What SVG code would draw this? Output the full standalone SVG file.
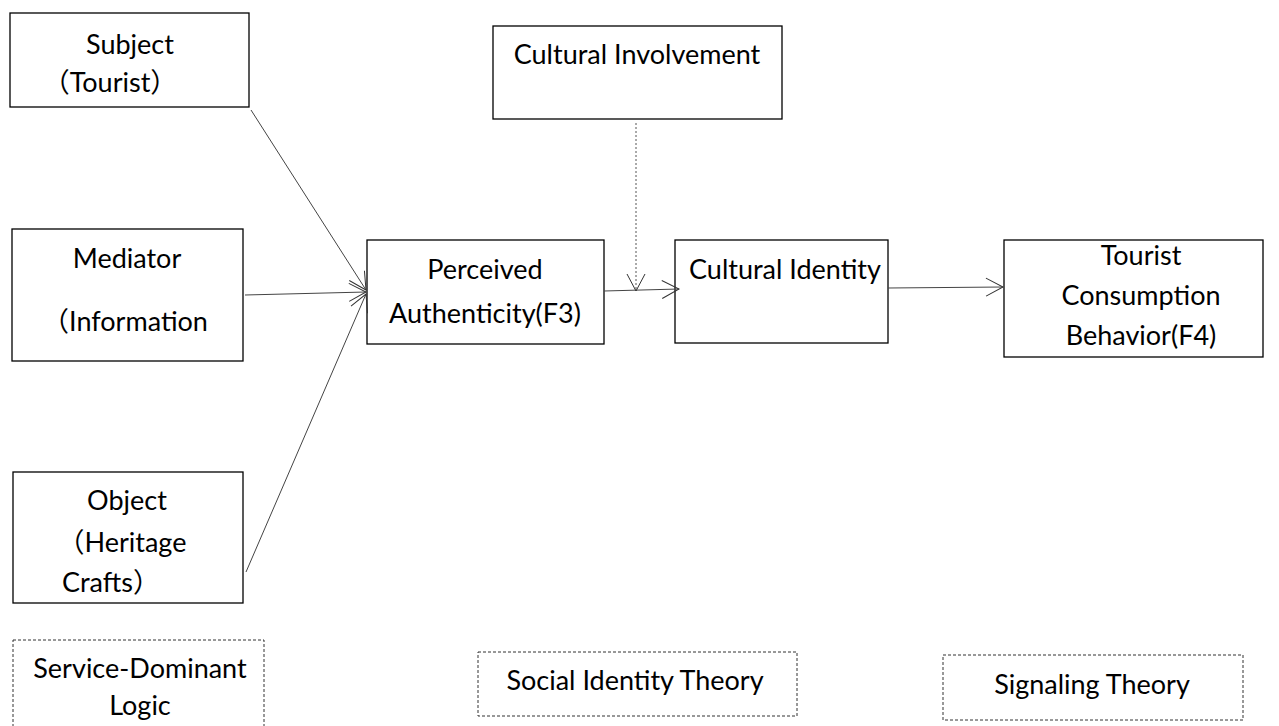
<svg xmlns="http://www.w3.org/2000/svg" width="1279" height="726" viewBox="0 0 1279 726">
<defs>
<style>
.box{fill:#fff;stroke:#000;stroke-width:1.3}
.dbox{fill:#fff;stroke:#333;stroke-width:1;stroke-dasharray:3 2}
.t{font-family:"Lato","Noto Sans CJK SC",sans-serif;font-size:27px;fill:#000;text-anchor:middle}
.c{fill:none;stroke:#444;stroke-width:1}
.d{fill:none;stroke:#555;stroke-width:1;stroke-dasharray:2 2}
</style>
<marker id="arr" markerUnits="userSpaceOnUse" viewBox="-20 -12 22 24" refX="0" refY="0" markerWidth="22" markerHeight="24" orient="auto" overflow="visible">
<path d="M-17,-9 L0,0 L-17,9" fill="none" stroke="#333" stroke-width="1"/>
</marker>
</defs>
<g id="subject"><rect class="box" x="10" y="13" width="239" height="94"/><text class="t" x="130" y="54">Subject</text><text class="t" x="110" y="92">（Tourist）</text></g>
<g id="cultural-involvement"><rect class="box" x="493" y="26" width="289" height="93"/><text class="t" x="637" y="64">Cultural Involvement</text></g>
<g id="mediator"><rect class="box" x="12" y="229" width="231" height="132"/><text class="t" x="127" y="268">Mediator</text><text class="t" x="125" y="331">（Information</text></g>
<g id="perceived-authenticity"><rect class="box" x="367" y="240" width="237" height="104"/><text class="t" x="485" y="279">Perceived</text><text class="t" x="485" y="323">Authenticity(F3)</text></g>
<g id="cultural-identity"><rect class="box" x="675" y="240" width="213" height="103"/><text class="t" x="785" y="279">Cultural Identity</text></g>
<g id="tourist-consumption"><rect class="box" x="1004" y="240" width="259" height="117"/><text class="t" x="1141" y="265">Tourist</text><text class="t" x="1141" y="305">Consumption</text><text class="t" x="1141" y="345">Behavior(F4)</text></g>
<g id="object"><rect class="box" x="13" y="472" width="230" height="131"/><text class="t" x="127" y="510">Object</text><text class="t" x="122" y="552">（Heritage</text><text class="t" x="111" y="592">Crafts）</text></g>
<g id="sdl"><rect class="dbox" x="13" y="640" width="251" height="100"/><text class="t" x="140" y="678">Service-Dominant</text><text class="t" x="140" y="715">Logic</text></g>
<g id="sit"><rect class="dbox" x="478" y="652" width="319" height="64"/><text class="t" x="635" y="690">Social Identity Theory</text></g>
<g id="st"><rect class="dbox" x="943" y="655" width="300" height="65"/><text class="t" x="1092" y="694">Signaling Theory</text></g>
<g id="connectors">
<line class="c" x1="251" y1="110" x2="366" y2="290" marker-end="url(#arr)"/>
<line class="c" x1="245" y1="295" x2="366" y2="292" marker-end="url(#arr)"/>
<line class="c" x1="246" y1="572" x2="366" y2="294" marker-end="url(#arr)"/>
<line class="c" x1="604" y1="291" x2="679" y2="289" marker-end="url(#arr)"/>
<line class="d" x1="636" y1="123" x2="636" y2="291" marker-end="url(#arr)"/>
<line class="c" x1="888" y1="288" x2="1003" y2="287" marker-end="url(#arr)"/>
</g>
</svg>
